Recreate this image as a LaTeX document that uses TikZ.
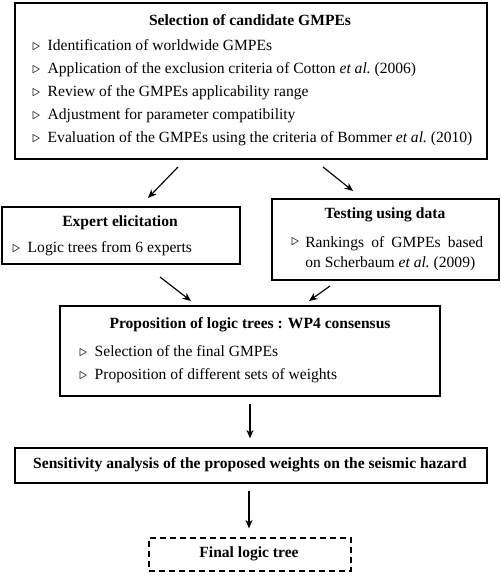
\documentclass[tikz,border=0pt]{standalone}
\usepackage{fontspec}
\setmainfont{Liberation Serif}
\usetikzlibrary{arrows.meta}
\begin{document}
\begin{tikzpicture}[x=0.7pt,y=-0.7pt,
  box/.style={draw,line width=1.1pt,inner sep=0pt,anchor=north west},
  dbox/.style={draw,line width=1.1pt,dashed,dash pattern=on 4pt off 3pt,inner sep=0pt,anchor=north west},
  ttl/.style={font=\fontsize{10.9}{13}\selectfont\bfseries,inner sep=0pt},
  itm/.style={font=\fontsize{10.9}{13}\selectfont,inner sep=0pt,anchor=base west},
  arr/.style={line width=0.8pt,-{Stealth[length=6pt,width=5pt]}}]
\useasboundingbox (0,0) rectangle (500,575);
\newcommand{\tri}{\makebox[10.8pt][l]{$\triangleright$}}
% Box 1
\node[box,minimum width=472*0.7pt,minimum height=156*0.7pt] (b1) at (14,2) {};
\node[ttl] (b1t) at (250,20) {Selection of candidate GMPEs};
\node[itm] (b1i1) at (32,51) {\tri Identification of worldwide GMPEs};
\node[itm] (b1i2) at (32,74) {\tri Application of the exclusion criteria of Cotton \textit{et al.}\ (2006)};
\node[itm] (b1i3) at (32,97) {\tri Review of the GMPEs applicability range};
\node[itm] (b1i4) at (32,120) {\tri Adjustment for parameter compatibility};
\node[itm] (b1i5) at (32,143) {\tri Evaluation of the GMPEs using the criteria of Bommer \textit{et al.}\ (2010)};
% Expert
\node[box,minimum width=238*0.7pt,minimum height=57*0.7pt] (b2) at (1,206) {};
\node[ttl] (b2t) at (120,223) {Expert elicitation};
\node[itm] (b2i1) at (12,253) {\tri Logic trees from 6 experts};
% Testing
\node[box,minimum width=227*0.7pt,minimum height=81*0.7pt] (b3) at (271,198) {};
\node[ttl] (b3t) at (385,215) {Testing using data};
\node[itm] (b3tri) at (291,246) {$\triangleright$};
\node[itm,text width=178*0.7pt,align=justify,font=\fontsize{10.9}{14.5}\selectfont,anchor=north west] (b3i1) at (305,236) {Rankings of GMPEs based\linebreak on Scherbaum \textit{et al.}\ (2009)};
% Proposition
\node[box,minimum width=380*0.7pt,minimum height=90*0.7pt] (b4) at (59,305) {};
\node[ttl] (b4t) at (250,325) {Proposition of logic trees : WP4 consensus};
\node[itm] (b4i1) at (79,356) {\tri Selection of the final GMPEs};
\node[itm] (b4i2) at (79,379) {\tri Proposition of different sets of weights};
% Sensitivity
\node[box,minimum width=472*0.7pt,minimum height=35*0.7pt] (b5) at (14,447) {};
\node[ttl] (b5t) at (250,464.5) {Sensitivity analysis of the proposed weights on the seismic hazard};
% Final
\node[dbox,minimum width=202*0.7pt,minimum height=33*0.7pt] (b6) at (148,537) {};
\node[ttl] (b6t) at (249,554) {Final logic tree};
% arrows
\coordinate (a1s) at (178,167); \coordinate (a1e) at (148,198);
\coordinate (a2s) at (323,167); \coordinate (a2e) at (353,191);
\coordinate (a3s) at (160,277); \coordinate (a3e) at (191,301);
\coordinate (a4s) at (330,286); \coordinate (a4e) at (309,301);
\draw[arr] (a1s) -- (a1e);
\draw[arr] (a2s) -- (a2e);
\draw[arr] (a3s) -- (a3e);
\draw[arr] (a4s) -- (a4e);
\draw[arr] ([yshift=-5pt]b4.south -| b5t) -- ([yshift=6pt]b5.north -| b5t);
\draw[arr] ([yshift=-5pt]b5.south -| b6t) -- ([yshift=6pt]b6.north -| b6t);
\end{tikzpicture}
\end{document}
